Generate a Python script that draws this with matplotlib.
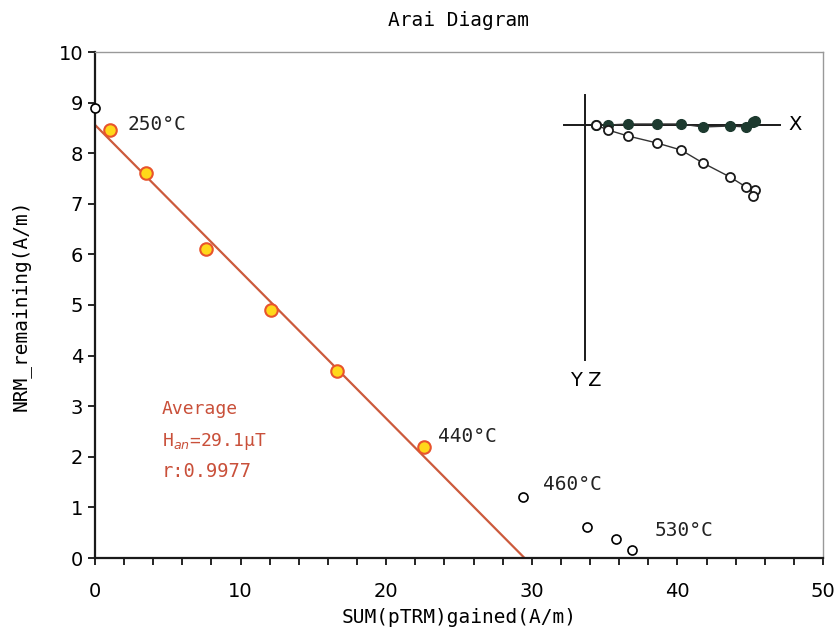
import matplotlib
matplotlib.use("Agg")
import matplotlib.pyplot as plt
from matplotlib.ticker import MultipleLocator

# Arai plot data (A/m)
ptrm_fit = [1.0, 3.5, 7.6, 12.1, 16.6, 22.6]
nrm_fit = [8.45, 7.6, 6.1, 4.9, 3.7, 2.2]
ptrm_out = [0.0, 29.4, 33.8, 35.8, 36.9]
nrm_out = [8.9, 1.2, 0.62, 0.38, 0.15]
fit_x = [0.0, 29.5]
fit_y = [8.56, 0.0]

step_labels = ["250°C", "440°C", "460°C", "530°C"]
step_label_xy = [(1.0, 8.45), (22.6, 2.2), (29.4, 1.2), (36.9, 0.15)]

# Zijderveld inset (arbitrary units)
zij_x = [1.1, 2.3, 4.3, 7.2, 9.6, 11.8, 14.5, 16.1, 17.0, 16.8]
zij_y = [0.0, 0.0, 0.1, 0.1, 0.1, -0.2, -0.1, -0.2, 0.4, 0.3]
zij_z = [0.0, -0.5, -1.1, -1.8, -2.5, -3.8, -5.2, -6.2, -6.5, -7.1]

red = "#c9503a"
mono = "DejaVu Sans Mono"

fig = plt.figure(figsize=(8.37, 6.37), dpi=100)
ax = fig.add_axes([95 / 837, 79 / 637, 728 / 837, 506 / 637])

ax.plot(fit_x, fit_y, color="#cc5a3c", lw=1.6, zorder=2)
ax.plot(ptrm_fit, nrm_fit, "o", ms=9, mfc="#ffd81a", mec="#e8542c", mew=1.5, zorder=3)
ax.plot(ptrm_out, nrm_out, "o", ms=6.5, mfc="white", mec="black", mew=1.2, zorder=3, clip_on=False)

offsets = [(13, 4), (10, 7), (14, 9), (16, 14)]
for lab, (x, y), off in zip(step_labels, step_label_xy, offsets):
    ax.annotate(lab, (x, y), xytext=off, textcoords="offset points",
                fontsize=14, family=mono, va="center", ha="left", color="#222222")

ax.text(4.6, 2.95, "Average", color=red, fontsize=13, family=mono, va="center")
ax.text(4.6, 2.3, r"H$_{an}$=29.1μT", color=red, fontsize=13, family=mono, va="center")
ax.text(4.6, 1.7, "r:0.9977", color=red, fontsize=13.5, family=mono, va="center")

ax.set_xlim(0, 50)
ax.set_ylim(0, 10)
ax.xaxis.set_major_locator(MultipleLocator(10))
ax.xaxis.set_minor_locator(MultipleLocator(2))
ax.yaxis.set_major_locator(MultipleLocator(1))
ax.tick_params(which="both", direction="out", length=5, width=1.2, labelsize=14)
ax.tick_params(axis="x", pad=12)
for s in ["left", "bottom"]:
    ax.spines[s].set_linewidth(1.6)
    ax.spines[s].set_color("#1a1a1a")
for s in ["top", "right"]:
    ax.spines[s].set_linewidth(1.0)
    ax.spines[s].set_color("#999999")

ax.set_title("Arai Diagram", family=mono, fontsize=14, pad=19)
ax.set_xlabel("SUM(pTRM)gained(A/m)", family=mono, fontsize=14, labelpad=5)
ax.set_ylabel("NRM_remaining(A/m)", family=mono, fontsize=14, labelpad=20)

# inset orthogonal vector plot
ins = fig.add_axes([560 / 837, (637 - 365) / 637, 240 / 837, 275 / 637])
ins.set_xlim(-2.5, 21.5)
ins.set_ylim(-24.0, 3.5)
ins.axis("off")
ins.plot([-2.1, 19.5], [0, 0], color="#1a1a1a", lw=1.4)
ins.plot([0, 0], [3.0, -23.5], color="#1a1a1a", lw=1.4)
ins.plot(zij_x, zij_y, "-o", color="#333333", lw=1.0, ms=7, mfc="#1d3a2f", mec="#1d3a2f", zorder=3)
ins.plot(zij_x, zij_z, "-o", color="#333333", lw=1.0, ms=6.5, mfc="white", mec="#1a1a1a", mew=1.3, zorder=3)
ins.text(20.3, 0, "X", fontsize=14, va="center", ha="left")
ins.text(0.1, -25.6, "Y Z", fontsize=14, va="center", ha="center")

fig.savefig("out.png", dpi=100)
